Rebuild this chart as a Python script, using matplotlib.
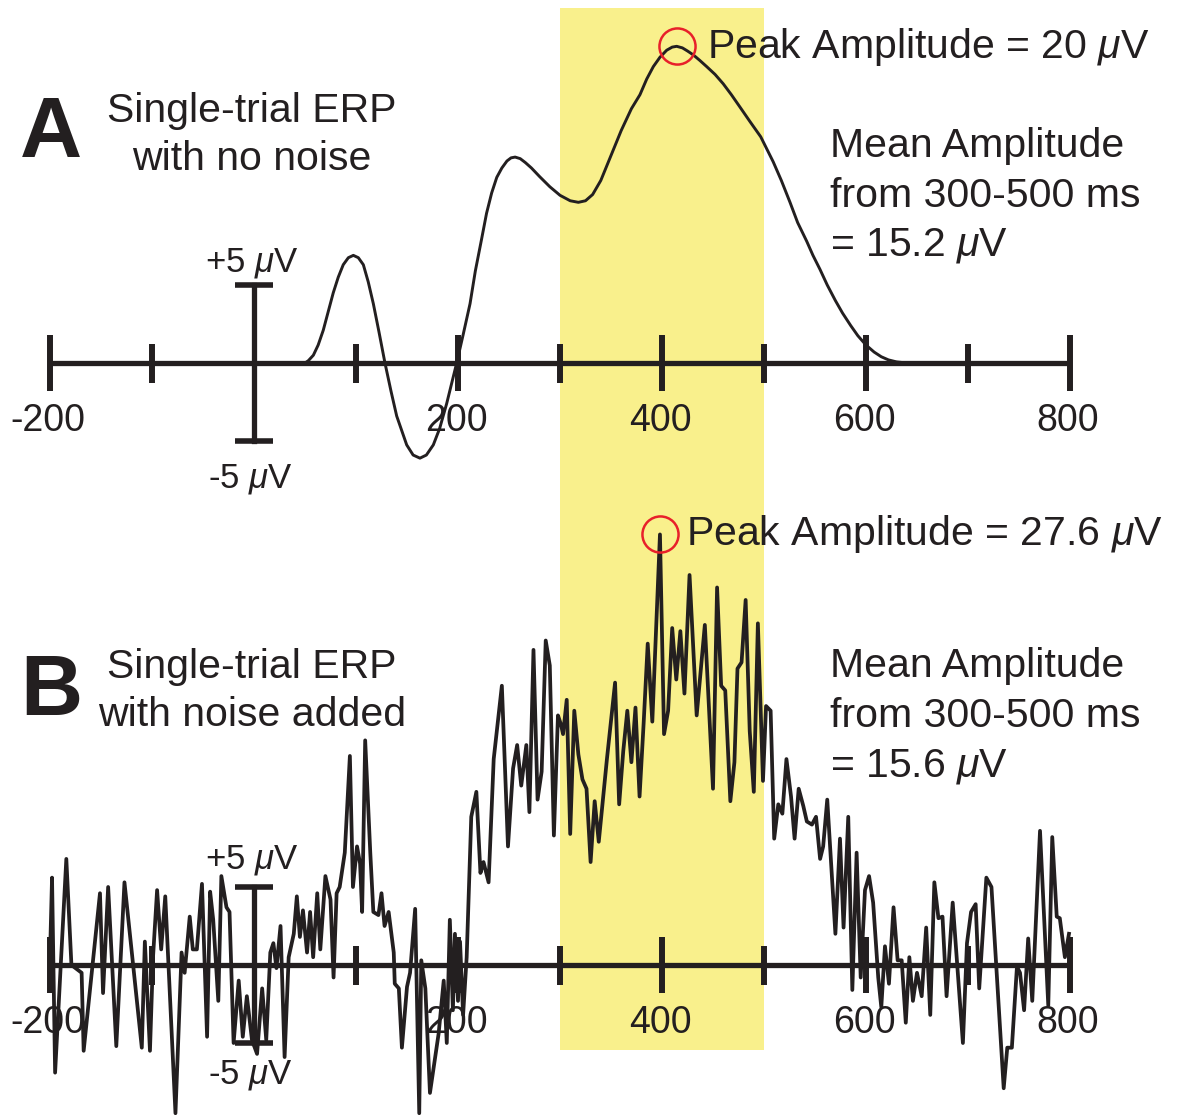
import numpy as np
import matplotlib as mpl
import matplotlib.pyplot as plt

mpl.rcParams['font.family'] = ['Liberation Sans', 'DejaVu Sans']
mpl.rcParams['mathtext.fontset'] = 'custom'
mpl.rcParams['mathtext.it'] = 'Liberation Sans:italic'
mpl.rcParams['mathtext.rm'] = 'Liberation Sans'

# panel A: clean single-trial ERP (ms, uV)
clean_t = [50, 53.3, 58.2, 62.9, 67.9, 72.8, 77.7, 82.6, 87.5, 92.5, 97.4, 102.3,
           107.2, 112, 117, 122.5, 128.4, 134.3, 139.9, 149.7, 156, 162.7, 169,
           175.8, 182, 188.9, 198.7, 205, 211.8, 217, 223, 228, 233, 238, 243, 248,
           252, 256, 261, 266, 272, 280, 290, 300, 310, 318, 325, 332, 340, 350,
           360, 370, 378.4, 385, 391.5, 398, 404.6, 410, 414.4, 420, 425, 430.7,
           437, 443.8, 452, 460, 468, 476.5, 486, 496.8, 509, 517, 525.5, 533,
           541.9, 548, 554.9, 562, 570, 577, 585, 592, 600, 608, 615, 622, 630,
           640]
clean_v = [0, 0.15, 0.5, 1.15, 2.1, 3.3, 4.5, 5.5, 6.3, 6.75, 6.9, 6.75,
           6.3, 5.2, 3.8, 2.0, 0, -1.8, -3.4, -5.25, -5.9, -6.1, -5.9,
           -5.25, -4.2, -2.6, 0, 1.8, 3.8, 5.9, 7.9, 9.6, 10.9, 11.9, 12.5, 12.95,
           13.15, 13.2, 13.1, 12.85, 12.5, 11.95, 11.3, 10.75, 10.4, 10.3, 10.4, 10.8, 11.7, 13.3,
           14.9, 16.3, 17.2, 18.2, 19.0, 19.6, 20.05, 20.25, 20.3, 20.2, 20.0, 19.75,
           19.4, 19.0, 18.5, 17.9, 17.2, 16.4, 15.5, 14.5, 12.9, 11.7, 10.3, 9.0,
           7.8, 6.9, 6.0, 5.0, 4.0, 3.2, 2.4, 1.75, 1.15, 0.7, 0.4, 0.2, 0.07,
           0]

# panel B: same ERP with noise added (ms, uV)
noisy_t = [-200, -198, -195, -184, -179, -169, -167, -151, -148, -143, -135, -127,
           -110, -107, -102, -99, -95, -91, -87, -77, -71, -68, -63, -60, -56, -51,
           -46, -43, -40, -35, -32, -27, -24, -20, -15, -11, -7, -2, 3, 8, 12, 16,
           19, 22, 26, 30, 34, 39, 42, 45, 48, 52, 55, 58, 62, 65, 70, 75, 78, 81,
           84, 89, 94, 97, 101, 104, 106, 109, 114, 117, 122, 125, 128, 132, 137,
           138, 142, 145, 150, 153, 158, 162, 164, 168, 172.5, 181, 186, 189, 192,
           195, 197, 200, 202, 205, 208.5, 213, 218, 222, 225, 230, 235, 243, 249,
           254, 258, 262, 267, 270, 274, 278, 282, 286, 290, 294, 298, 301, 303,
           306.6, 310, 314, 318, 322, 326, 330, 334, 338, 346, 354, 358, 362, 366,
           370, 374, 378, 382, 386, 390.5, 398, 402, 406, 410, 414, 418, 422, 427,
           434, 442, 450, 454, 458, 462, 467, 471, 474, 478, 482, 486, 490, 494,
           499, 502, 506.5, 510, 514, 518, 522, 526.5, 530, 534, 538.5, 542, 547,
           551, 555, 558, 562, 570, 574.5, 578, 582.6, 586.6, 590.8, 594.8, 599,
           603, 607, 612, 615, 618.6, 622.5, 627, 631, 635, 639, 642.5, 646, 650,
           654.6, 659, 663, 667, 671, 675, 679, 685, 695, 699, 703, 707.5, 711,
           718, 723, 735, 738.5, 743, 748, 751, 755, 759, 763, 770.6, 778.7, 782.6,
           787, 790, 795, 799]
noisy_v = [0.5, 5.6, -6.9, 6.8, 0, -0.5, -5.5, 4.6, -1.8, 5.0, -5.2, 5.3,
           -5.3, 1.5, -5.5, 0.5, 4.8, 1.0, 4.4, -9.5, 0.8, -0.5, 3.1, 1.0, 1.0, 5.2,
           -4.6, 4.7, 2.9, -2.3, 5.7, 3.7, 3.4, -5.0, -1.0, -4.6, -2.0, -4.8, -5.7, -1.5, -4.8, 0.8,
           1.4, -0.2, 2.5, -5.9, 0.5, 2.0, 4.4, 1.8, 3.5, 0.8, 3.4, 0.5, 4.6, 1.0, 5.7, 4.2, -0.8, 4.6,
           5.0, 7.2, 13.4, 5.0, 7.6, 6.5, 3.4, 14.4, 7.2, 3.4, 3.2, 4.6, 2.5, 3.4, 0.8,
           -1.2, -1.5, -5.3, -1.4, -0.5, 3.6, -9.5, 0.3, -1.5, -8.2, -4.4, -1.0, -5.0, 2.9,
           -2.9, 2.0, -2.3, 1.5, -3.2, 0.5, 9.5, 11.1, 5.9, 6.6, 5.3, 13.2, 17.9, 7.6,
           12.6, 14.1, 11.5, 14.1, 9.8, 20.2, 10.6, 12.4, 20.8, 19.2, 8.3, 16.0, 15.4, 14.8,
           17.0, 8.4, 16.3, 13.5, 11.9, 11.3, 6.6, 10.5, 7.9, 13.2, 18.1, 10.3, 13.7, 16.3,
           13.0, 16.5, 10.8, 15.5, 20.6, 15.6, 27.6, 14.8, 16.3, 21.6, 18.3, 21.4, 17.4, 25.0,
           16.0, 21.8, 11.3, 24.2, 17.9, 17.6, 10.5, 13.0, 19.0, 19.4, 23.4, 15.0, 11.1, 21.9,
           11.8, 16.6, 16.3, 8.1, 10.3, 9.7, 13.2, 10.8, 8.1, 11.3, 10.2, 9.2, 9.0,
           9.5, 6.8, 7.6, 10.6, 2.0, 8.1, 2.4, 9.5, -1.6, 7.2, -0.8, 4.8,
           5.7, 4.0, -0.8, -2.7, 1.2, -1.2, 3.7, 0.3, 0.3, -3.7, 0.5, -2.3, -0.5,
           -2.0, 2.4, -3.2, 5.3, 3.0, 3.1, -2.0, 4.0, -5.0, 1.4, 3.4, 3.9, -1.5,
           5.6, 5.0, -7.9, -5.3, -5.3, -0.1, -0.5, -2.9, 1.7, -2.3, 8.6, -2.6, 8.2,
           3.1, 3.0, 0.5, 2.0]

tick_ms = list(range(-200, 900, 100))
labelled_ticks = [-200, 200, 400, 600, 800]
window = (300, 500)

ink = '#231F20'
yellow = '#F9F08C'
red = '#E8202A'

W, H = 1178, 1119
PX_UV = 15.6             # pixels per microvolt
X0_PX, PX_MS = 50, 1.02  # x=-200 ms sits at pixel 50
xlim = (-200 - X0_PX / PX_MS, -200 + (W - X0_PX) / PX_MS)

fig = plt.figure(figsize=(W / 100, H / 100), dpi=100)
fig.patch.set_facecolor('white')


def panel(base_px):
    ax = fig.add_axes([0, 0, 1, 1], facecolor='none')
    ax.set_xlim(*xlim)
    ax.set_ylim(-(H - base_px) / PX_UV, base_px / PX_UV)
    ax.axis('off')
    return ax


axA = panel(363)
axB = panel(965)

# shaded measurement window spanning both panels
axA.axvspan(*window, ymin=(H - 1050) / H, ymax=(H - 8) / H, color=yellow, lw=0, zorder=0)

TXT = 29.5
for ax, letter, l2, peak_txt, mean_txt, t, v, lw, ttl_y, lt_y, peak_x, peak_y, mean_y, sc_y in [
        (axA, 'A', 'with no noise', r'Peak Amplitude = 20 $\mu$V', r'= 15.2 $\mu$V',
         clean_t, clean_v, 2.1, (15.45, 12.37), 13.2, 444, 19.55,
         (13.2, 10.0, 6.9), (5.85, -8.0)),
        (axB, 'B', 'with noise added', r'Peak Amplitude = 27.6 $\mu$V', r'= 15.6 $\mu$V',
         noisy_t, noisy_v, 2.7, (18.4, 15.3), 16.0, 423.5, 26.9,
         (18.46, 15.26, 12.1), (6.2, -7.6))]:
    # time axis with tick marks
    ax.plot([-200, 800], [0, 0], color=ink, lw=3.8, solid_capstyle='butt', zorder=2)
    for tm in tick_ms:
        if tm == 0:
            continue
        h = 1.8 if tm % 200 == 0 else 1.25
        ax.plot([tm, tm], [-h, h], color=ink, lw=4.3, solid_capstyle='butt', zorder=2)
        if tm in labelled_ticks:
            ax.text(tm - 2, -4.36, str(tm), ha='center', va='baseline', fontsize=27,
                    color=ink, zorder=1)
    # +/- 5 uV calibration bar
    ax.plot([0, 0], [-5, 5], color=ink, lw=3.8, zorder=2)
    for y in (-5, 5):
        ax.plot([-19, 19], [y, y], color=ink, lw=4.0, solid_capstyle='butt', zorder=2)
    ax.text(-2, sc_y[0], r'+5 $\mu$V', ha='center', va='baseline', fontsize=25, color=ink)
    ax.text(-4, sc_y[1], r'-5 $\mu$V', ha='center', va='baseline', fontsize=25, color=ink)

    # waveform and its peak marker
    ax.plot(t, v, color=ink, lw=lw, zorder=3)
    ip = int(np.argmax(v))
    ax.plot(t[ip], v[ip], 'o', ms=26, mfc='none', mec=red, mew=1.8, zorder=4)

    # labels
    ax.text(-199, lt_y, letter, ha='center', va='baseline', fontsize=62,
            fontweight='bold', color=ink)
    ax.text(-2, ttl_y[0], 'Single-trial ERP', ha='center', va='baseline', fontsize=TXT, color=ink)
    ax.text(-2, ttl_y[1], l2, ha='center', va='baseline', fontsize=TXT, color=ink)
    ax.text(peak_x, peak_y, peak_txt, ha='left', va='baseline', fontsize=TXT, color=ink)
    for s, y in zip(['Mean Amplitude', 'from 300-500 ms', mean_txt], mean_y):
        ax.text(564.7, y, s, ha='left', va='baseline', fontsize=TXT, color=ink)

fig.savefig('out.png', dpi=100, facecolor='white')
